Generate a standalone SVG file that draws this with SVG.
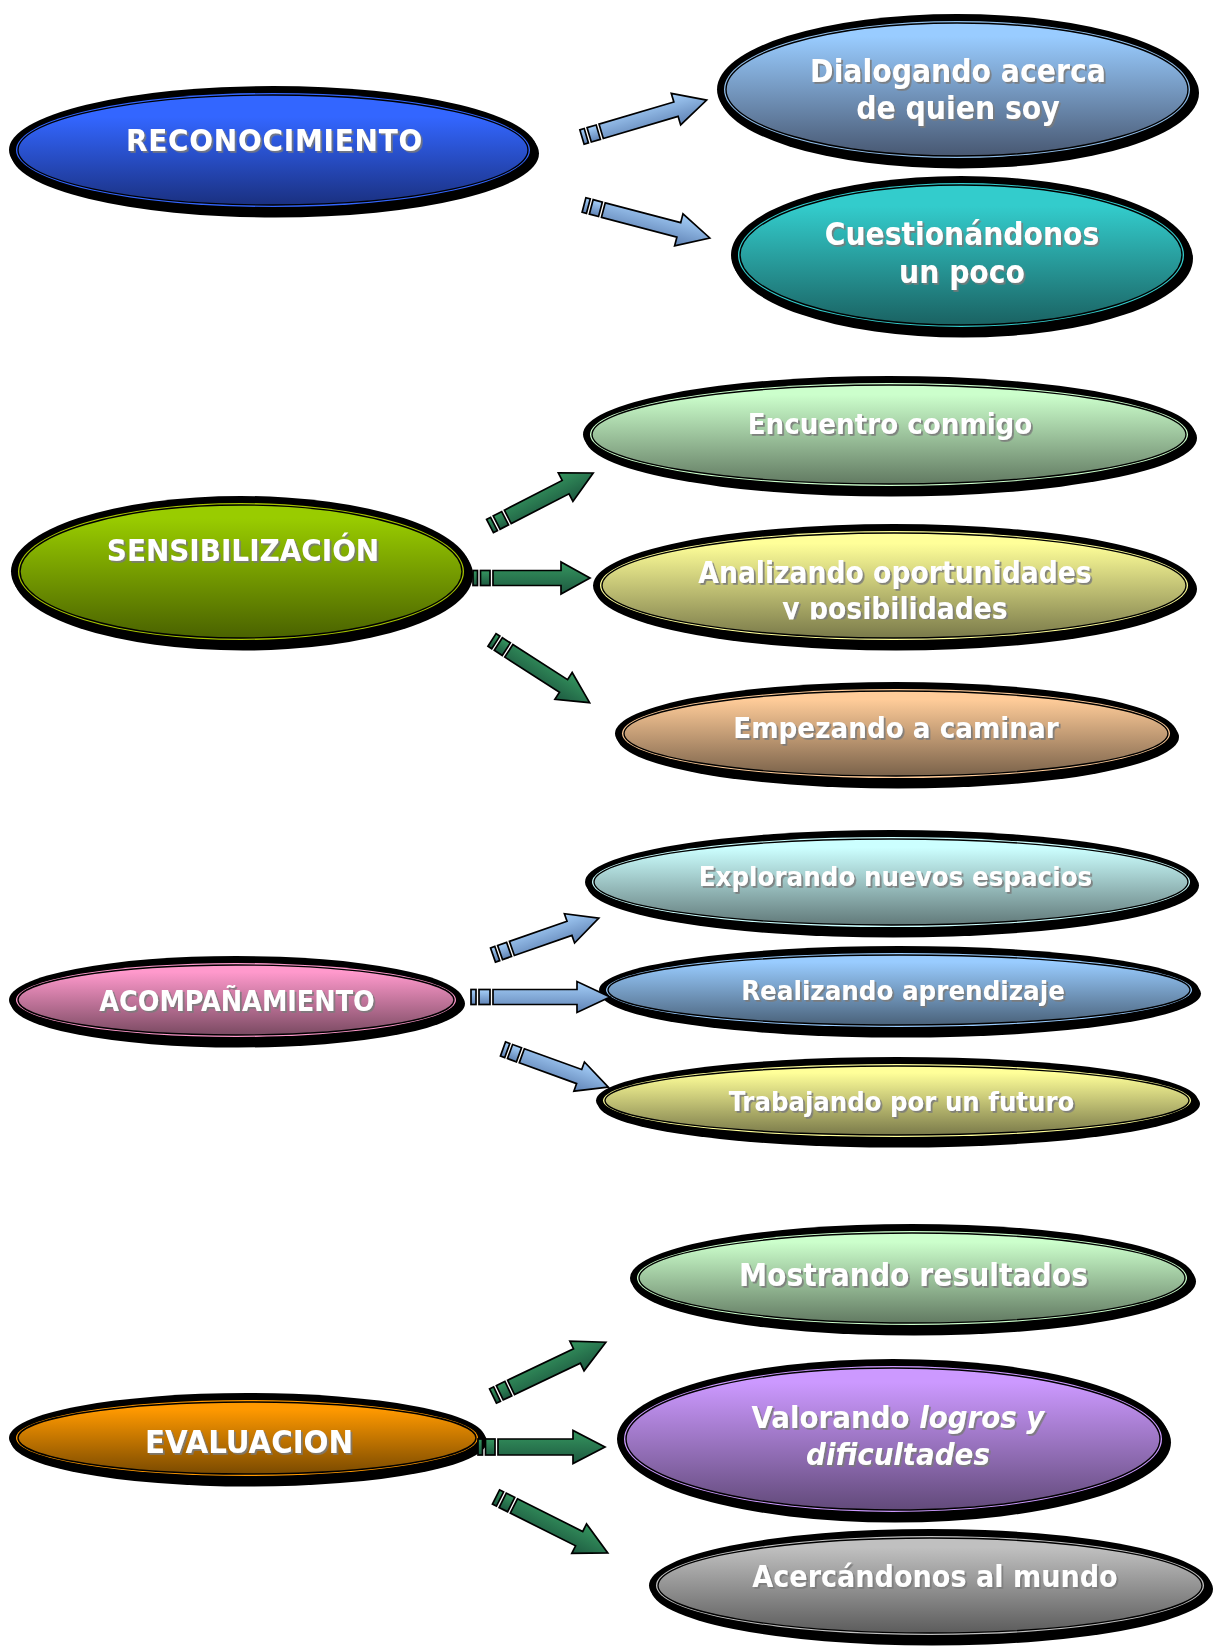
<svg xmlns="http://www.w3.org/2000/svg" width="1215" height="1646" viewBox="0 0 1215 1646">
<style>
.sh{fill:#000}
.bk{fill:#000}
.in{stroke:#000;stroke-width:1.4}
.t{fill:#fff;font-family:"DejaVu Sans Condensed","DejaVu Sans",sans-serif;font-stretch:condensed;font-weight:bold;text-anchor:middle;filter:url(#ts)}
.it{font-style:italic}
.ab{fill:url(#gab);stroke:#000;stroke-width:1.7;stroke-linejoin:miter}
.ag{fill:url(#gag);stroke:#000;stroke-width:1.7;stroke-linejoin:miter}
</style>
<defs>
<filter id="ts" x="-5%" y="-30%" width="112%" height="160%">
<feDropShadow dx="1.8" dy="1.8" stdDeviation="0.4" flood-color="#7a7a7a" flood-opacity="0.9"/>
</filter>
<linearGradient id="gab" x1="0" y1="0" x2="0" y2="1"><stop offset="0" stop-color="#a6d0fa"/><stop offset="1" stop-color="#5f82b4"/></linearGradient>
<linearGradient id="gag" x1="0" y1="0" x2="0" y2="1"><stop offset="0" stop-color="#35965f"/><stop offset="1" stop-color="#1d5940"/></linearGradient>
<linearGradient id="g1" x1="0" y1="0" x2="0" y2="1"><stop offset="0.2" stop-color="#3366ff"/><stop offset="1" stop-color="#1a3080"/></linearGradient>
<linearGradient id="g2" x1="0" y1="0" x2="0" y2="1"><stop offset="0.1" stop-color="#99ccff"/><stop offset="1" stop-color="#485872"/></linearGradient>
<linearGradient id="g3" x1="0" y1="0" x2="0" y2="1"><stop offset="0.15" stop-color="#33cccc"/><stop offset="1" stop-color="#1a6262"/></linearGradient>
<linearGradient id="g4" x1="0" y1="0" x2="0" y2="1"><stop offset="0.1" stop-color="#99cc00"/><stop offset="1" stop-color="#4a6200"/></linearGradient>
<linearGradient id="g5" x1="0" y1="0" x2="0" y2="1"><stop offset="0.1" stop-color="#ccffcc"/><stop offset="1" stop-color="#627a62"/></linearGradient>
<linearGradient id="g6" x1="0" y1="0" x2="0" y2="1"><stop offset="0.1" stop-color="#ffff99"/><stop offset="1" stop-color="#7a7a4a"/></linearGradient>
<linearGradient id="g7" x1="0" y1="0" x2="0" y2="1"><stop offset="0.1" stop-color="#ffcc99"/><stop offset="1" stop-color="#7a624a"/></linearGradient>
<linearGradient id="g8" x1="0" y1="0" x2="0" y2="1"><stop offset="0.1" stop-color="#ff99cc"/><stop offset="1" stop-color="#7a4a62"/></linearGradient>
<linearGradient id="g9" x1="0" y1="0" x2="0" y2="1"><stop offset="0.1" stop-color="#ccffff"/><stop offset="1" stop-color="#627a7a"/></linearGradient>
<linearGradient id="g10" x1="0" y1="0" x2="0" y2="1"><stop offset="0.1" stop-color="#99ccff"/><stop offset="1" stop-color="#4a627a"/></linearGradient>
<linearGradient id="g12" x1="0" y1="0" x2="0" y2="1"><stop offset="0.1" stop-color="#ff9900"/><stop offset="1" stop-color="#7a4a00"/></linearGradient>
<linearGradient id="g14" x1="0" y1="0" x2="0" y2="1"><stop offset="0.1" stop-color="#cc99ff"/><stop offset="1" stop-color="#624a7a"/></linearGradient>
<linearGradient id="g15" x1="0" y1="0" x2="0" y2="1"><stop offset="0.1" stop-color="#c0c0c0"/><stop offset="1" stop-color="#5c5c5c"/></linearGradient>
<clipPath id="clipAn"><rect x="590" y="520" width="610" height="99.5"/></clipPath>
</defs>
<rect width="1215" height="1646" fill="#fff"/>

<g id="nodes">
<g id="n-reconocimiento">
<ellipse class="sh" cx="275" cy="153.5" rx="264" ry="64"/>
<ellipse class="bk" cx="273" cy="150" rx="264" ry="64"/>
<ellipse cx="273" cy="150" rx="257" ry="57" fill="#3366ff"/>
<ellipse class="in" cx="273" cy="150" rx="255" ry="55" fill="url(#g1)"/>
<text class="t" x="274.5" y="151" font-size="31" letter-spacing="0.8">RECONOCIMIENTO</text>
</g>
<g id="n-dialogando">
<ellipse class="sh" cx="959" cy="93" rx="240" ry="75.5"/>
<ellipse class="bk" cx="957" cy="89.5" rx="240" ry="75.5"/>
<ellipse cx="957" cy="89.5" rx="233" ry="68.5" fill="#8fbce8"/>
<ellipse class="in" cx="957" cy="89.5" rx="231" ry="66.5" fill="url(#g2)"/>
<text class="t" x="958" y="82" font-size="31.5">Dialogando acerca</text>
<text class="t" x="958" y="119" font-size="31.5">de quien soy</text>
</g>
<g id="n-cuestionandonos">
<ellipse class="sh" cx="963" cy="258.5" rx="230" ry="79"/>
<ellipse class="bk" cx="961" cy="255" rx="230" ry="79"/>
<ellipse cx="961" cy="255" rx="223" ry="72" fill="#33cccc"/>
<ellipse class="in" cx="961" cy="255" rx="221" ry="70" fill="url(#g3)"/>
<text class="t" x="962" y="245" font-size="31.4">Cuestionándonos</text>
<text class="t" x="962" y="283" font-size="31.4">un poco</text>
</g>
<g id="n-sensibilizacion">
<ellipse class="sh" cx="243" cy="575" rx="230" ry="75.5"/>
<ellipse class="bk" cx="241" cy="571.5" rx="230" ry="75.5"/>
<ellipse cx="241" cy="571.5" rx="223" ry="68.5" fill="#a6c400"/>
<ellipse class="in" cx="241" cy="571.5" rx="221" ry="66.5" fill="url(#g4)"/>
<text class="t" x="243" y="561" font-size="31">SENSIBILIZACIÓN</text>
</g>
<g id="n-encuentro">
<ellipse class="sh" cx="891" cy="438" rx="306" ry="58.5"/>
<ellipse class="bk" cx="889" cy="434.5" rx="306" ry="58.5"/>
<ellipse cx="889" cy="434.5" rx="299" ry="51.5" fill="#ccffcc"/>
<ellipse class="in" cx="889" cy="434.5" rx="297" ry="49.5" fill="url(#g5)"/>
<text class="t" x="890" y="434" font-size="29.1">Encuentro conmigo</text>
</g>
<g id="n-analizando">
<ellipse class="sh" cx="896" cy="589" rx="301" ry="61.5"/>
<ellipse class="bk" cx="894" cy="585.5" rx="301" ry="61.5"/>
<ellipse cx="894" cy="585.5" rx="294" ry="54.5" fill="#ffff99"/>
<ellipse class="in" cx="894" cy="585.5" rx="292" ry="52.5" fill="url(#g6)"/>
<g clip-path="url(#clipAn)">
<text class="t" x="895" y="583" font-size="29.6">Analizando oportunidades</text>
<text class="t" x="895" y="619" font-size="29.6">y posibilidades</text>
</g>
</g>
<g id="n-empezando">
<ellipse class="sh" cx="898" cy="737" rx="281" ry="51.5"/>
<ellipse class="bk" cx="896" cy="733.5" rx="281" ry="51.5"/>
<ellipse cx="896" cy="733.5" rx="274" ry="44.5" fill="#ffcc99"/>
<ellipse class="in" cx="896" cy="733.5" rx="272" ry="42.5" fill="url(#g7)"/>
<text class="t" x="896" y="738" font-size="29.2">Empezando a caminar</text>
</g>
<g id="n-acompanamiento">
<ellipse class="sh" cx="238" cy="1003.5" rx="227" ry="44"/>
<ellipse class="bk" cx="236" cy="1000" rx="227" ry="44"/>
<ellipse cx="236" cy="1000" rx="220" ry="37" fill="#ff99cc"/>
<ellipse class="in" cx="236" cy="1000" rx="218" ry="35" fill="url(#g8)"/>
<text class="t" x="237" y="1010.5" font-size="28.4">ACOMPAÑAMIENTO</text>
</g>
<g id="n-explorando">
<ellipse class="sh" cx="893" cy="885.5" rx="306" ry="52"/>
<ellipse class="bk" cx="891" cy="882" rx="306" ry="52"/>
<ellipse cx="891" cy="882" rx="299" ry="45" fill="#ccffff"/>
<ellipse class="in" cx="891" cy="882" rx="297" ry="43" fill="url(#g9)"/>
<text class="t" x="895.5" y="886" font-size="27.4">Explorando nuevos espacios</text>
</g>
<g id="n-realizando">
<ellipse class="sh" cx="901" cy="993.5" rx="300" ry="44"/>
<ellipse class="bk" cx="899" cy="990" rx="300" ry="44"/>
<ellipse cx="899" cy="990" rx="293" ry="37" fill="#99ccff"/>
<ellipse class="in" cx="899" cy="990" rx="291" ry="35" fill="url(#g10)"/>
<text class="t" x="903" y="1000" font-size="27.4">Realizando aprendizaje</text>
</g>
<g id="n-trabajando">
<ellipse class="sh" cx="899" cy="1104" rx="301" ry="43.5"/>
<ellipse class="bk" cx="897" cy="1100.5" rx="301" ry="43.5"/>
<ellipse cx="897" cy="1100.5" rx="294" ry="36.5" fill="#ffff99"/>
<ellipse class="in" cx="897" cy="1100.5" rx="292" ry="34.5" fill="url(#g6)"/>
<text class="t" x="901.5" y="1111" font-size="27.2">Trabajando por un futuro</text>
</g>
<g id="n-evaluacion">
<ellipse class="sh" cx="249" cy="1441.5" rx="238" ry="45"/>
<ellipse class="bk" cx="247" cy="1438" rx="238" ry="45"/>
<ellipse cx="247" cy="1438" rx="231" ry="38" fill="#ff9900"/>
<ellipse class="in" cx="247" cy="1438" rx="229" ry="36" fill="url(#g12)"/>
<text class="t" x="249" y="1452.5" font-size="32.6">EVALUACION</text>
</g>
<g id="n-mostrando">
<ellipse class="sh" cx="914" cy="1281.5" rx="282" ry="54"/>
<ellipse class="bk" cx="912" cy="1278" rx="282" ry="54"/>
<ellipse cx="912" cy="1278" rx="275" ry="47" fill="#ccffcc"/>
<ellipse class="in" cx="912" cy="1278" rx="273" ry="45" fill="url(#g5)"/>
<text class="t" x="913.5" y="1286" font-size="31.4">Mostrando resultados</text>
</g>
<g id="n-valorando">
<ellipse class="sh" cx="895" cy="1442.5" rx="276" ry="80"/>
<ellipse class="bk" cx="893" cy="1439" rx="276" ry="80"/>
<ellipse cx="893" cy="1439" rx="269" ry="73" fill="#cc99ff"/>
<ellipse class="in" cx="893" cy="1439" rx="267" ry="71" fill="url(#g14)"/>
<text class="t" x="898" y="1428" font-size="30.8">Valorando <tspan class="it">logros y</tspan></text>
<text class="t it" x="898" y="1465" font-size="30.8">dificultades</text>
</g>
<g id="n-acercandonos">
<ellipse class="sh" cx="932" cy="1589" rx="281" ry="56.5"/>
<ellipse class="bk" cx="930" cy="1585.5" rx="281" ry="56.5"/>
<ellipse cx="930" cy="1585.5" rx="274" ry="49.5" fill="#c0c0c0"/>
<ellipse class="in" cx="930" cy="1585.5" rx="272" ry="47.5" fill="url(#g15)"/>
<text class="t" x="935" y="1587" font-size="30.1">Acercándonos al mundo</text>
</g>
</g>

<g id="connectors">
<g transform="translate(582,137) rotate(-16.5)"><rect class="ab" x="0" y="-7.5" width="4.5" height="15"/><rect class="ab" x="7.5" y="-7.5" width="9.5" height="15"/><path class="ab" d="M20,-7.5 H98 V-16.5 L130,0 L98,16.5 V7.5 H20 Z"/></g>
<g transform="translate(584,205) rotate(14.7)"><rect class="ab" x="0" y="-7.5" width="4.5" height="15"/><rect class="ab" x="7.5" y="-7.5" width="9.5" height="15"/><path class="ab" d="M20,-7.5 H98 V-16.5 L130,0 L98,16.5 V7.5 H20 Z"/></g>
<g transform="translate(490,526) rotate(-27.2)"><rect class="ag" x="0" y="-7.5" width="4.5" height="15"/><rect class="ag" x="7.5" y="-7.5" width="9.5" height="15"/><path class="ag" d="M20,-7.5 H85 V-16 L116,0 L85,16 V7.5 H20 Z"/></g>
<g transform="translate(473,578)"><rect class="ag" x="0" y="-7.5" width="4.5" height="15"/><rect class="ag" x="7.5" y="-7.5" width="9.5" height="15"/><path class="ag" d="M20,-7.5 H88 V-16 L117,0 L88,16 V7.5 H20 Z"/></g>
<g transform="translate(492,640) rotate(32.7)"><rect class="ag" x="0" y="-7.5" width="4.5" height="15"/><rect class="ag" x="7.5" y="-7.5" width="9.5" height="15"/><path class="ag" d="M20,-7.5 H85 V-16 L116,0 L85,16 V7.5 H20 Z"/></g>
<g transform="translate(493,955) rotate(-19.2)"><rect class="ab" x="0" y="-7.5" width="4.5" height="15"/><rect class="ab" x="7.5" y="-7.5" width="9.5" height="15"/><path class="ab" d="M20,-7.5 H81 V-15.5 L112,0 L81,15.5 V7.5 H20 Z"/></g>
<g transform="translate(471,997)"><rect class="ab" x="0" y="-7.5" width="5" height="15"/><rect class="ab" x="8" y="-7.5" width="11" height="15"/><path class="ab" d="M22,-7.5 H106 V-15.5 L139,0 L106,15.5 V7.5 H22 Z"/></g>
<g transform="translate(503,1049) rotate(19.9)"><rect class="ab" x="0" y="-7.5" width="4.5" height="15"/><rect class="ab" x="7.5" y="-7.5" width="9.5" height="15"/><path class="ab" d="M20,-7.5 H81 V-15.5 L112,0 L81,15.5 V7.5 H20 Z"/></g>
<g transform="translate(493,1396) rotate(-25.5)"><rect class="ag" x="0" y="-8" width="4.5" height="16"/><rect class="ag" x="7.5" y="-8" width="9.5" height="16"/><path class="ag" d="M20,-8 H93 V-16.5 L125,0 L93,16.5 V8 H20 Z"/></g>
<g transform="translate(478,1447)"><rect class="ag" x="0" y="-8" width="4.5" height="16"/><rect class="ag" x="7.5" y="-8" width="9.5" height="16"/><path class="ag" d="M20,-8 H95 V-16.5 L127,0 L95,16.5 V8 H20 Z"/></g>
<g transform="translate(496,1497) rotate(26.6)"><rect class="ag" x="0" y="-8" width="4.5" height="16"/><rect class="ag" x="7.5" y="-8" width="9.5" height="16"/><path class="ag" d="M20,-8 H93 V-16.5 L125,0 L93,16.5 V8 H20 Z"/></g>
</g>
</svg>
